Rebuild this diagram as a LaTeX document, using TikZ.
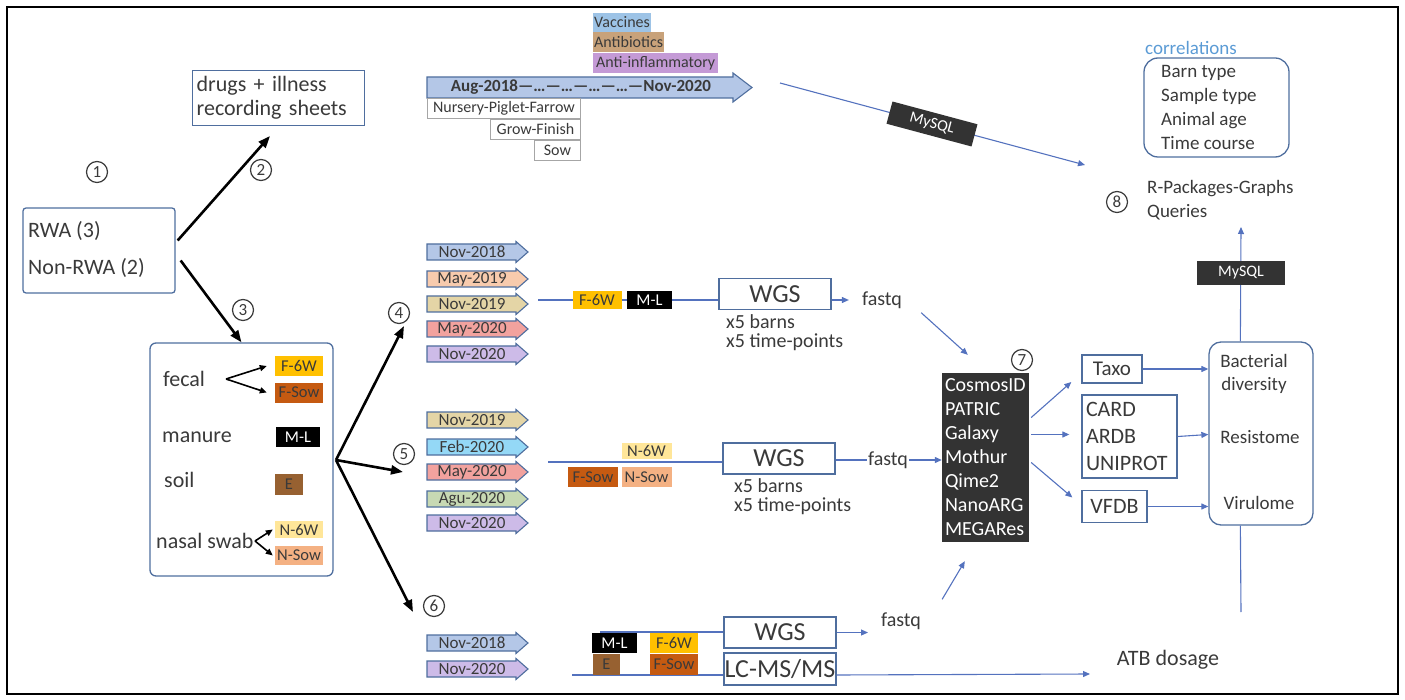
\documentclass[tikz,border=0pt]{standalone}
\usepackage{fontspec}
\setmainfont{Carlito}
\usetikzlibrary{arrows.meta,calc}
\definecolor{txt}{HTML}{3A3A3A}
\definecolor{bord}{HTML}{4F6E9E}
\definecolor{cblue}{HTML}{5472BE}
\definecolor{dark}{HTML}{333333}
\definecolor{cF6}{HTML}{FFC000}
\definecolor{cFS}{HTML}{C55A11}
\definecolor{cE}{HTML}{976131}
\definecolor{cN6}{HTML}{FFE699}
\definecolor{cNS}{HTML}{F4B183}
\definecolor{dBlue}{HTML}{B4C7E7}
\definecolor{dPeach}{HTML}{F8CBAD}
\definecolor{dTan}{HTML}{E4D5A6}
\definecolor{dSalmon}{HTML}{F2A29E}
\definecolor{dLav}{HTML}{CDBBE8}
\definecolor{dCyan}{HTML}{94D8F6}
\definecolor{dSage}{HTML}{C7D9B3}
\definecolor{vac}{HTML}{9DC3E6}
\definecolor{abx}{HTML}{C8A27A}
\definecolor{antiinf}{HTML}{C49AD6}
\definecolor{corr}{HTML}{5B9BD5}
\newcommand\fntMain{\fontsize{22}{24}\selectfont}
\newcommand\fntSm{\fontsize{19}{24}\selectfont}
\newcommand\fntDate{\fontsize{17}{18}\selectfont}
\newcommand\fntTag{\fontsize{16.5}{18}\selectfont}
\newcommand\fntNum{\fontsize{17}{18}\selectfont}
\newcommand\fntWGS{\fontsize{26}{28}\selectfont}
\newcommand\fntTool{\fontsize{20}{24}\selectfont}
\newcommand\fntStage{\fontsize{16}{18}\selectfont}
\newcommand\datearrow[5]{%
  \draw[line width=1.1pt, draw=bord, fill=#4] (#2,#3-8) -- (#2+89,#3-8) -- (#2+89,#3-10.5) -- (#2+101,#3) -- (#2+89,#3+10.5) -- (#2+89,#3+8) -- (#2,#3+8) -- cycle;
  \node[datetxt] (#1) at (#2+45,#3) {#5};}
\begin{document}
\begin{tikzpicture}[x=1pt,y=-1pt,
  lbl/.style={font=\fntMain, inner sep=1pt, text=txt},
  slbl/.style={font=\fntSm, inner sep=1pt, text=txt},
  bx/.style={draw=bord, line width=1.3pt},
  conn/.style={draw=cblue, line width=1.1pt},
  carr/.style={conn, -{Triangle[length=7pt,width=6pt]}},
  barr/.style={draw=black, line width=2.6pt, -{Triangle[length=12pt,width=9pt]}},
  sarr/.style={draw=black, line width=1.6pt, -{Triangle[length=7pt,width=6pt]}},
  tag/.style={inner sep=0pt, font=\fntTag, text=txt},
  datetxt/.style={inner sep=0pt, font=\fntDate, text=txt},
  cnum/.style={circle, draw=txt, line width=1.2pt, inner sep=0pt, minimum size=21, font=\fntNum, text=txt},
  stage/.style={draw=gray!70, line width=0.9pt, inner sep=0pt, minimum height=20, font=\fntStage, text=txt},
  mysql/.style={fill=dark, text=white, font=\fntStage, inner sep=0pt, minimum width=88, minimum height=23},
  wgs/.style={bx, inner sep=0pt, font=\fntWGS, text=txt, minimum width=112, minimum height=31}
]
\useasboundingbox (0,0) rectangle (1405,700);
\draw[line width=2.6pt] (7,7) rectangle (1398,694);

% ---- step 1-3 ----
\node[cnum] (n1) at (97,172) {1};
\node[bx, rounded corners=3, minimum width=152, minimum height=85] (rwa) at (99,250.5) {};
\node[lbl, anchor=west] (rwa3) at (27,231) {RWA (3)};
\node[lbl, anchor=west] (nrwa) at (27,268) {Non-RWA (2)};
\node[bx, anchor=north west, minimum width=172, minimum height=55, text width=164, inner xsep=4pt, inner ysep=2pt, align=left, font=\fntMain, text=txt] (drugs) at (192,70) {drugs + illness\\recording sheets};
\coordinate (a2e) at (270,136);
\draw[barr] ($(rwa.east)+(2,-10)$) -- (a2e);
\node[cnum] (n2) at (261,170) {2};
\node[bx, rounded corners=6, minimum width=183, minimum height=233] (smp) at (241.5,459.5) {};
\draw[barr] ($(rwa.east)+(5,10)$) -- (smp.north);
\node[cnum] (n3) at (243,310) {3};

% sample box content
\node[lbl, anchor=west] (fec) at (162,379) {fecal};
\node[lbl, anchor=west] (man) at (161,437) {manure};
\node[lbl, anchor=west] (soil) at (163,480) {soil};
\node[lbl, anchor=west] (nas) at (155,541) {nasal swab};
\node[tag, fill=cF6, minimum width=48, minimum height=20] (sf6) at (299,366) {F-6W};
\node[tag, fill=cFS, minimum width=48, minimum height=20] (sfs) at (299,392.5) {F-Sow};
\node[tag, fill=black, text=white, minimum width=44, minimum height=20] (sml) at (298,437) {M-L};
\node[tag, fill=cE, minimum width=28, minimum height=21] (se) at (289,484.5) {E};
\node[tag, fill=cN6, minimum width=48, minimum height=17] (sn6) at (299,529.5) {N-6W};
\node[tag, fill=cNS, minimum width=48, minimum height=19] (sns) at (299,555.5) {N-Sow};
\coordinate (fv) at (226,379);
\draw[sarr] (fv) -- ($(sf6.west)+(-8,0)$);
\draw[sarr] (fv) -- ($(sfs.west)+(-8,0)$);
\coordinate (nv) at (255,541);
\draw[sarr] (nv) -- ($(sn6.west)+(-2,0)$);
\draw[sarr] (nv) -- ($(sns.west)+(-2,0)$);

% fan
\coordinate (fan) at (336,460);
\coordinate (f4) at (404,326);
\coordinate (f5) at (403,472);
\coordinate (f6) at (413,612);
\draw[barr] (fan) -- (f4);
\draw[barr] (fan) -- (f5);
\draw[barr] (fan) -- (f6);
\node[cnum] (n4) at (399,313) {4};
\node[cnum] (n5) at (404,454) {5};
\node[cnum] (n6) at (434,606) {6};

% ---- top timeline ----
\node[anchor=west, fill=vac, inner xsep=1pt, inner ysep=0pt, minimum height=19, font=\fntStage, text=txt] (vacc) at (593,22.5) {Vaccines};
\node[anchor=west, fill=abx, inner xsep=1pt, inner ysep=0pt, minimum height=20, font=\fntStage, text=txt] (anti) at (593,42.5) {Antibiotics};
\node[anchor=west, fill=antiinf, inner xsep=3pt, inner ysep=0pt, minimum height=20, font=\fntStage, text=txt] (ainf) at (593,63) {Anti-inflammatory};
\draw[line width=1.1pt, draw=bord, fill=dBlue] (427,77) -- (733,77) -- (733,73) -- (752,87.5) -- (733,102) -- (733,98) -- (427,98) -- cycle;
\node[font=\fontsize{17}{18}\selectfont\bfseries, text=txt, inner sep=0pt] (tl) at (581,87.5) {Aug-2018—…---…—…—…—Nov-2020};
\node[stage, anchor=north west, minimum width=153] (npf) at (427,98) {Nursery-Piglet-Farrow};
\node[stage, anchor=north west, minimum width=90] (gf) at (490,119) {Grow-Finish};
\node[stage, anchor=north west, minimum width=46] (sow) at (534,140) {Sow};
\coordinate (s1) at (780,83);
\coordinate (e1) at (1085,165);
\draw[carr] (s1) -- (e1);
\node[mysql, rotate=-15] (my1) at (932,124) {MySQL};

% ---- group 4 ----
\datearrow{d41}{427}{252}{dBlue}{Nov-2018}
\datearrow{d42}{427}{279}{dPeach}{May-2019}
\datearrow{d43}{427}{304}{dTan}{Nov-2019}
\datearrow{d44}{427}{329}{dSalmon}{May-2020}
\datearrow{d45}{427}{354}{dLav}{Nov-2020}
\node[wgs] (wgs4) at (775,294) {WGS};
\coordinate (l4) at (538,300);
\draw[conn] (l4) -- (wgs4.west|-l4);
\node[tag, fill=cF6, minimum width=49, minimum height=18] (t4a) at (597,300) {F-6W};
\node[tag, fill=black, text=white, minimum width=45, minimum height=18] (t4b) at (649.5,300) {M-L};
\node[slbl, anchor=west, align=left, font=\fontsize{20}{19}\selectfont] (x4) at (725,333) {x5 barns\\x5 time-points};
\node[slbl, font=\fontsize{20}{22}\selectfont] (fq4) at (882,300) {fastq};
\draw[carr, shorten >=12pt] (wgs4.east|-fq4) -- (fq4.west);

% ---- group 5 ----
\datearrow{d51}{427}{420}{dTan}{Nov-2019}
\datearrow{d52}{427}{447}{dCyan}{Feb-2020}
\datearrow{d53}{427}{472}{dSalmon}{May-2020}
\datearrow{d54}{427}{499}{dSage}{Agu-2020}
\datearrow{d55}{427}{523}{dLav}{Nov-2020}
\node[wgs] (wgs5) at (779,458.5) {WGS};
\coordinate (l5) at (548,462);
\draw[conn] (l5) -- (wgs5.west|-l5);
\node[tag, fill=cN6, minimum width=50, minimum height=16] (t5a) at (646.5,450.5) {N-6W};
\node[tag, fill=cFS, minimum width=50, minimum height=20] (t5b) at (593,477) {F-Sow};
\node[tag, fill=cNS, minimum width=50, minimum height=20] (t5c) at (646.5,477) {N-Sow};
\node[slbl, anchor=west, align=left, font=\fontsize{20}{19}\selectfont] (x5) at (733,497) {x5 barns\\x5 time-points};
\node[slbl, font=\fontsize{20}{22}\selectfont] (fq5) at (888,460) {fastq};
\draw[conn] (wgs5.east|-fq5) -- (fq5.west);

% ---- group 6 ----
\datearrow{d61}{427}{643}{dBlue}{Nov-2018}
\datearrow{d62}{427}{669}{dLav}{Nov-2020}
\node[wgs] (wgs6) at (780,632.5) {WGS};
\node[wgs, minimum height=32] (lcms) at (780,669) {LC-MS/MS};
\coordinate (l6a) at (600,632);
\coordinate (l6b) at (572,675);
\draw[conn] (l6a) -- (wgs6.west|-l6a);
\draw[conn] (l6b) -- (lcms.west|-l6b);
\node[tag, fill=black, text=white, minimum width=45, minimum height=20] (t6a) at (614.5,643) {M-L};
\node[tag, fill=cE, minimum width=27, minimum height=21] (t6b) at (606.5,664) {E};
\node[tag, fill=cF6, minimum width=48, minimum height=20] (t6c) at (674,643) {F-6W};
\node[tag, fill=cFS, minimum width=48, minimum height=21] (t6d) at (674,664) {F-Sow};
\node[slbl, font=\fontsize{20}{22}\selectfont] (fq6) at (901,621) {fastq};
\coordinate (w6t) at (868,632.5);
\draw[carr] (wgs6.east) -- (w6t);
\node[lbl] (atb) at (1168,660) {ATB dosage};
\coordinate (atbt) at (1090,674);
\draw[carr] (lcms.east|-l6b) -- (atbt);

% ---- tools ----
\node[fill=dark, text=white, font=\fntTool, inner sep=0pt, minimum width=87, minimum height=169, text width=81, align=left] (tools) at (985.5,457.5) {CosmosID\\PATRIC\\Galaxy\\Mothur\\Qime2\\NanoARG\\MEGARes};
\node[cnum] (n7) at (1022,360) {7};
\draw[carr] ($(fq4.south east)+(18,3)$) -- ($(tools.north west)+(26,-18)$);
\draw[carr] (fq5.east) -- (tools.west|-fq5);
\draw[carr] ($(fq6.north east)+(20,-12)$) -- ($(tools.south west)+(23,19)$);

\node[bx, inner sep=0pt, minimum width=60, minimum height=28, font=\fontsize{21}{24}\selectfont, text=txt] (taxo) at (1112,369) {Taxo};
\node[bx, inner sep=0pt, minimum width=95, minimum height=83, text width=87, align=left, font=\fontsize{22}{27}\selectfont, text=txt] (card) at (1129.5,436.5) {CARD\\ARDB\\UNIPROT};
\node[bx, inner sep=0pt, minimum width=65, minimum height=32, font=\fontsize{22}{24}\selectfont, text=txt] (vfdb) at (1114.5,506.5) {VFDB};
\draw[carr] ($(tools.east)+(2,-40)$) -- ($(taxo.west)+(-10,13)$);
\draw[carr] ($(tools.east)+(2,-23)$) -- ($(card.west)+(-12,-2)$);
\draw[carr] ($(tools.east)+(2,5)$) -- ($(vfdb.west)+(-9,-9)$);

% ---- outputs ----
\node[bx, rounded corners=12, minimum width=104, minimum height=183] (obox) at (1261,433.5) {};
\node[slbl, align=center, font=\fontsize{19}{23}\selectfont] (bdiv) at (1254,374) {Bacterial\\diversity};
\node[slbl] (res) at (1260,437) {Resistome};
\node[slbl] (vir) at (1259,503) {Virulome};
\draw[carr] (taxo.east) -- (obox.west|-taxo);
\draw[carr] (card.east) -- ($(obox.west|-card)+(0,-2)$);
\draw[carr] (vfdb.east) -- (obox.west|-vfdb);
\coordinate (ob) at ($(obox.south west)+(32,0)$);
\coordinate (obe) at (1241,612);
\draw[conn] (ob) -- (obe);
\coordinate (ot) at ($(obox.north west)+(32,0)$);
\coordinate (qt) at (1241,227);
\draw[carr] (ot) -- (qt);
\node[mysql, minimum height=24] (my2) at (1241,273) {MySQL};

\node[slbl, anchor=west, align=left, font=\fontsize{19}{24}\selectfont] (rpk) at (1146,200) {R-Packages-Graphs\\Queries};
\node[cnum] (n8) at (1117,202) {8};
\node[slbl, anchor=west, text=corr] (corrl) at (1144,48) {correlations};
\node[bx, rounded corners=14, minimum width=145, minimum height=99] (cbox) at (1216.5,107.5) {};
\node[slbl, anchor=west, align=left, font=\fontsize{19}{23.7}\selectfont] (clist) at (1160,107.5) {Barn type\\Sample type\\Animal age\\Time course};
\end{tikzpicture}
\end{document}
